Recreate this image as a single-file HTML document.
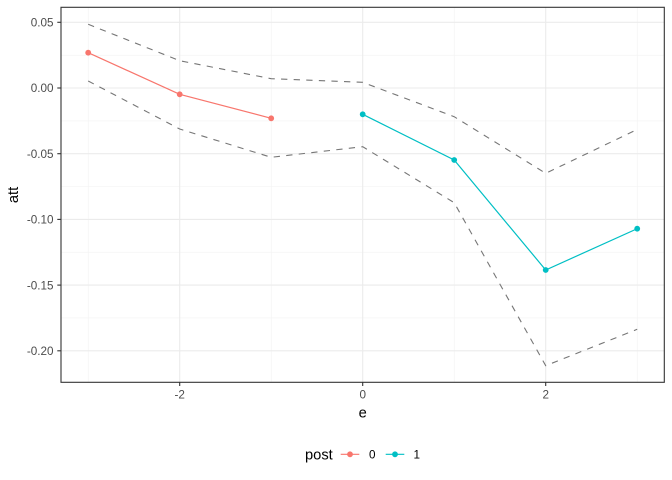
<!DOCTYPE html>
<html><head><meta charset="utf-8"><style>
html,body{margin:0;padding:0;background:#fff;}
svg{display:block;font-family:"Liberation Sans",Arial,sans-serif;}
</style></head><body>
<svg width="672" height="480" viewBox="0 0 672 480" xmlns="http://www.w3.org/2000/svg">
<rect width="672" height="480" fill="#fff"/>
<!-- minor grid -->
<g stroke="#f2f2f2" stroke-width="0.6" fill="none">
<line x1="61" x2="664.3" y1="55.2" y2="55.2"/>
<line x1="61" x2="664.3" y1="120.9" y2="120.9"/>
<line x1="61" x2="664.3" y1="186.5" y2="186.5"/>
<line x1="61" x2="664.3" y1="252.2" y2="252.2"/>
<line x1="61" x2="664.3" y1="317.9" y2="317.9"/>
<line y1="7.3" y2="382.3" x1="88.2" x2="88.2"/>
<line y1="7.3" y2="382.3" x1="271.2" x2="271.2"/>
<line y1="7.3" y2="382.3" x1="454.2" x2="454.2"/>
<line y1="7.3" y2="382.3" x1="637.2" x2="637.2"/>
</g>
<!-- major grid -->
<g stroke="#ebebeb" stroke-width="1.1" fill="none">
<line x1="61" x2="664.3" y1="22.3" y2="22.3"/>
<line x1="61" x2="664.3" y1="88" y2="88"/>
<line x1="61" x2="664.3" y1="153.7" y2="153.7"/>
<line x1="61" x2="664.3" y1="219.4" y2="219.4"/>
<line x1="61" x2="664.3" y1="285.1" y2="285.1"/>
<line x1="61" x2="664.3" y1="350.8" y2="350.8"/>
<line y1="7.3" y2="382.3" x1="179.7" x2="179.7"/>
<line y1="7.3" y2="382.3" x1="362.7" x2="362.7"/>
<line y1="7.3" y2="382.3" x1="545.7" x2="545.7"/>
</g>
<!-- dashed CI lines -->
<g stroke="#767676" stroke-width="1.1" fill="none" stroke-dasharray="6.3,6.3">
<polyline points="88.2,24.3 179.7,60.7 271.2,78.7 362.7,82.3 454.2,116.7 545.7,173.3 637.2,129.5"/>
<polyline points="88.2,81 179.7,129 271.2,157.3 362.7,146.7 454.2,202.7 545.7,365.7 637.2,329.3"/>
</g>
<!-- series -->
<polyline points="88.2,52.7 179.7,94.3 271.2,118.3" fill="none" stroke="#F8766D" stroke-width="1.2"/>
<g fill="#F8766D">
<circle cx="88.2" cy="52.7" r="2.9"/><circle cx="179.7" cy="94.3" r="2.9"/><circle cx="271.2" cy="118.3" r="2.9"/>
</g>
<polyline points="362.7,114.3 454.2,160 545.7,270 637.2,228.7" fill="none" stroke="#00BFC4" stroke-width="1.2"/>
<g fill="#00BFC4">
<circle cx="362.7" cy="114.3" r="2.9"/><circle cx="454.2" cy="160" r="2.9"/><circle cx="545.7" cy="270" r="2.9"/><circle cx="637.2" cy="228.7" r="2.9"/>
</g>
<!-- panel border -->
<rect x="61" y="7.3" width="603.3" height="375" fill="none" stroke="#333" stroke-width="1.1"/>
<!-- ticks -->
<g stroke="#333" stroke-width="1.1">
<line x1="57.3" x2="61" y1="22.3" y2="22.3"/>
<line x1="57.3" x2="61" y1="88" y2="88"/>
<line x1="57.3" x2="61" y1="153.7" y2="153.7"/>
<line x1="57.3" x2="61" y1="219.4" y2="219.4"/>
<line x1="57.3" x2="61" y1="285.1" y2="285.1"/>
<line x1="57.3" x2="61" y1="350.8" y2="350.8"/>
<line y1="382.3" y2="386" x1="179.7" x2="179.7"/>
<line y1="382.3" y2="386" x1="362.7" x2="362.7"/>
<line y1="382.3" y2="386" x1="545.7" x2="545.7"/>
</g>
<g fill="#4d4d4d" font-size="11.7" text-anchor="end">
<text x="53.5" y="26.5">0.05</text>
<text x="53.5" y="92.2">0.00</text>
<text x="53.5" y="157.9">-0.05</text>
<text x="53.5" y="223.6">-0.10</text>
<text x="53.5" y="289.3">-0.15</text>
<text x="53.5" y="355">-0.20</text>
</g>
<g fill="#4d4d4d" font-size="11.7" text-anchor="middle">
<text x="179.7" y="398.3">-2</text>
<text x="362.7" y="398.3">0</text>
<text x="545.7" y="398.3">2</text>
</g>
<text x="362.7" y="417.5" font-size="14.7" text-anchor="middle" fill="#000">e</text>
<text transform="translate(18,195) rotate(-90)" font-size="14.7" text-anchor="middle" fill="#000">att</text>
<!-- legend -->
<text x="305" y="459.5" font-size="14.7" fill="#000">post</text>
<line x1="340.7" x2="359.3" y1="454.3" y2="454.3" stroke="#F8766D" stroke-width="1.2"/>
<circle cx="350" cy="454.3" r="2.9" fill="#F8766D"/>
<text x="369" y="458.5" font-size="11.7" fill="#000">0</text>
<line x1="385.7" x2="404.3" y1="454.3" y2="454.3" stroke="#00BFC4" stroke-width="1.2"/>
<circle cx="395" cy="454.3" r="2.9" fill="#00BFC4"/>
<text x="413.5" y="458.5" font-size="11.7" fill="#000">1</text>
</svg>
</body></html>
